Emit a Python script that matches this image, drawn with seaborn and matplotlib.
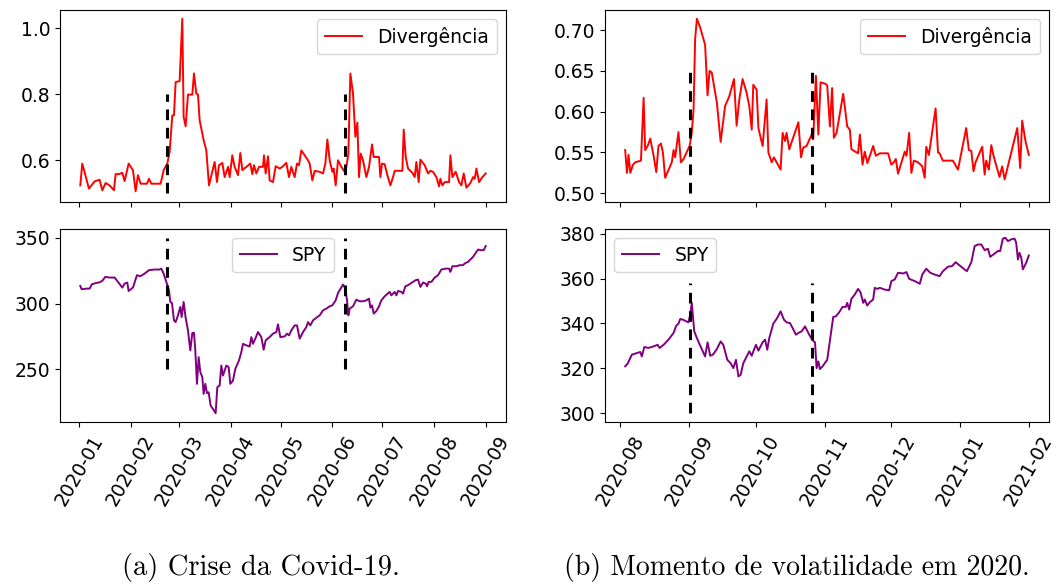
import numpy as np
import pandas as pd
import matplotlib
matplotlib.use("Agg")
import matplotlib.pyplot as plt
import matplotlib.dates as mdates
import matplotlib.ticker as mticker
import seaborn as sns

# ---------------- data ----------------
# (a) Covid crisis: days since 2020-01-01
left_start = "2020-01-01"
left_div_days = [0.8, 2.0, 6.0, 9.4, 12.4, 14.0, 16.0, 18.4, 21.0, 22.0, 24.0, 26.0, 27.4, 29.8, 32.4, 34.0,
                 35.4, 37.0, 40.8, 42.0, 43.4, 49.0, 50.8, 53.0, 54.4, 56.0, 57.0, 58.0, 60.4, 62.0, 62.8, 64.0,
                 65.4, 68.0, 69.0, 70.4, 71.4, 72.4, 74.8, 76.4, 78.0, 80.0, 81.4, 82.8, 84.0, 86.0, 87.4, 89.4,
                 90.4, 92.0, 93.4, 95.4, 96.8, 98.0, 100.4, 102.8, 104.0, 105.0, 106.4, 108.0, 110.4, 111.0,
                 112.0, 113.4, 114.4, 116.4, 118.0, 120.4, 122.0, 124.4, 126.0, 127.4, 129.4, 130.8, 132.0,
                 133.4, 135.4, 137.4, 138.4, 140.0, 141.4, 144.4, 146.4, 147.8, 149.0, 150.4, 152.0, 152.8,
                 154.0, 155.4, 157.4, 159.4, 160.4, 161.6, 162.8, 164.4, 165.8, 167.0, 168.0, 169.0, 170.4,
                 172.4, 174.0, 175.8, 176.8, 180.0, 180.8, 181.8, 183.4, 185.0, 186.8, 188.4, 189.4, 192.4,
                 194.0, 194.8, 196.0, 197.4, 200.0, 201.4, 202.4, 203.8, 204.8, 207.4, 209.4, 210.8, 212.4,
                 214.4, 216.0, 216.8, 218.0, 219.4, 222.0, 222.8, 224.0, 226.0, 228.0, 229.4, 230.8, 232.4,
                 234.8, 236.4, 237.4, 238.4, 240.0, 242.0, 244.0]
left_div_vals = [0.524, 0.590, 0.514, 0.536, 0.541, 0.509, 0.531, 0.524, 0.509, 0.558, 0.558, 0.562, 0.537,
                 0.590, 0.570, 0.506, 0.555, 0.529, 0.529, 0.544, 0.529, 0.529, 0.570, 0.590, 0.625, 0.736,
                 0.736, 0.837, 0.840, 1.029, 0.731, 0.703, 0.799, 0.799, 0.863, 0.802, 0.799, 0.721, 0.661,
                 0.630, 0.524, 0.565, 0.595, 0.534, 0.585, 0.592, 0.549, 0.580, 0.549, 0.615, 0.580, 0.555,
                 0.622, 0.570, 0.580, 0.590, 0.558, 0.585, 0.560, 0.580, 0.580, 0.615, 0.560, 0.612, 0.539,
                 0.534, 0.582, 0.575, 0.580, 0.592, 0.549, 0.580, 0.549, 0.590, 0.585, 0.630, 0.615, 0.600,
                 0.590, 0.539, 0.568, 0.565, 0.560, 0.590, 0.663, 0.600, 0.565, 0.575, 0.524, 0.600, 0.580,
                 0.565, 0.580, 0.620, 0.863, 0.802, 0.671, 0.714, 0.549, 0.620, 0.600, 0.549, 0.580, 0.648,
                 0.610, 0.610, 0.549, 0.590, 0.588, 0.555, 0.524, 0.549, 0.568, 0.568, 0.568, 0.693, 0.610,
                 0.575, 0.562, 0.549, 0.595, 0.534, 0.602, 0.585, 0.560, 0.568, 0.565, 0.549, 0.521, 0.544,
                 0.524, 0.534, 0.534, 0.615, 0.549, 0.565, 0.534, 0.524, 0.560, 0.517, 0.531, 0.549, 0.544,
                 0.575, 0.534, 0.549, 0.560]
left_spy_days = [0.8, 1.6, 4.4, 6.4, 7.8, 10.4, 12.4, 14.0, 15.8, 18.4, 21.4, 23.4, 26.0, 27.4, 29.0, 29.8,
                 32.4, 34.8, 36.8, 39.4, 42.0, 45.4, 48.4, 49.4, 50.8, 52.4, 54.0, 54.8, 55.8, 57.0, 58.0, 59.4,
                 60.8, 61.6, 62.8, 64.0, 65.4, 66.8, 68.0, 69.0, 69.8, 70.8, 71.8, 72.8, 74.0, 74.8, 75.8, 76.8,
                 77.8, 79.0, 80.4, 82.0, 83.0, 84.4, 85.4, 86.4, 88.4, 89.8, 90.8, 92.4, 93.8, 96.0, 97.4, 98.4,
                 100.4, 102.4, 103.4, 104.4, 106.0, 107.4, 109.4, 110.8, 112.0, 114.4, 116.4, 118.4, 119.4,
                 120.8, 123.4, 124.8, 126.0, 127.4, 129.4, 130.8, 132.4, 134.4, 136.4, 137.4, 138.8, 140.4,
                 142.4, 144.4, 146.4, 148.4, 150.4, 152.0, 154.0, 155.4, 156.4, 158.4, 159.8, 160.8, 161.6,
                 162.4, 164.4, 166.4, 168.4, 170.4, 172.4, 174.0, 174.8, 175.8, 176.8, 178.4, 180.0, 181.4,
                 183.4, 186.4, 187.4, 189.4, 190.4, 191.4, 193.4, 194.4, 195.8, 197.4, 199.4, 202.0, 203.4,
                 204.8, 206.4, 208.0, 208.8, 209.8, 211.4, 213.4, 215.4, 217.4, 220.0, 222.0, 222.8, 224.0,
                 226.4, 228.4, 230.4, 231.4, 233.4, 236.4, 239.4, 240.8, 242.8, 244.0]
left_spy_vals = [313.5, 310.9, 311.4, 311.4, 314.7, 315.7, 316.2, 317.3, 320.3, 319.8, 319.8, 316.5, 312.2,
                 315.2, 316.0, 309.6, 312.2, 321.6, 320.8, 322.8, 325.4, 325.9, 325.9, 326.6, 322.8, 316.5,
                 310.2, 301.3, 300.5, 287.3, 286.0, 291.1, 297.5, 289.8, 301.3, 289.3, 279.7, 264.5, 277.7,
                 277.9, 264.5, 239.1, 259.4, 248.0, 244.2, 231.5, 239.1, 232.0, 232.7, 222.6, 220.0, 216.8,
                 236.6, 237.8, 253.0, 245.4, 253.0, 251.8, 239.1, 241.6, 250.5, 256.9, 263.2, 269.5, 268.3,
                 267.5, 274.6, 269.5, 274.1, 278.4, 274.6, 265.0, 272.1, 274.6, 277.2, 278.4, 284.3, 274.6,
                 275.1, 277.2, 275.9, 279.7, 283.5, 283.5, 273.4, 278.4, 282.2, 286.0, 283.5, 287.3, 289.3,
                 291.1, 294.9, 296.2, 298.0, 298.7, 302.5, 308.1, 310.2, 314.5, 311.4, 302.5, 291.1, 296.2,
                 298.0, 303.0, 301.8, 301.8, 302.5, 303.8, 297.0, 298.7, 292.4, 294.4, 298.0, 302.5, 305.6,
                 308.9, 306.3, 308.9, 306.3, 309.6, 308.9, 307.6, 313.2, 314.0, 315.7, 317.8, 318.3, 312.7,
                 316.0, 315.2, 313.2, 316.5, 316.5, 319.8, 321.6, 325.9, 326.6, 326.6, 324.1, 328.4, 328.4,
                 329.2, 329.2, 330.5, 331.7, 335.5, 341.1, 340.6, 340.6, 343.7]
left_event_days = [52.8, 159.8]
left_div_event_range = [0.5, 0.8]
left_spy_event_range = [250, 350]

# (b) volatility moment: days since 2020-08-01
right_start = "2020-08-01"
right_div_days = [2.2, 3.0, 3.7, 4.5, 5.7, 6.7, 9.3, 10.5, 11.2, 12.3, 13.5, 15.0, 16.2, 17.2, 18.3, 19.2,
                  20.2, 23.2, 24.0, 24.7, 26.2, 27.3, 28.5, 31.2, 32.2, 33.0, 33.7, 34.5, 36.0, 38.2, 39.3,
                  40.2, 41.2, 43.5, 45.2, 47.2, 49.1, 51.2, 52.4, 53.6, 55.1, 56.9, 58.1, 59.2, 59.9, 61.4,
                  62.2, 64.1, 65.9, 66.7, 68.2, 69.2, 72.2, 73.1, 74.2, 74.9, 76.1, 80.2, 81.4, 82.4, 83.9,
                  86.2, 86.9, 88.1, 89.2, 90.2, 92.6, 93.2, 94.4, 95.4, 96.2, 97.4, 100.4, 102.2, 103.4, 104.1,
                  107.1, 107.9, 109.1, 110.1, 111.3, 113.9, 115.1, 116.9, 120.6, 122.1, 123.2, 124.1, 125.1,
                  128.1, 128.9, 130.1, 131.1, 132.2, 134.1, 136.0, 137.1, 137.8, 139.0, 142.0, 143.1, 143.8,
                  145.3, 149.8, 152.1, 155.8, 157.0, 158.1, 159.1, 160.0, 163.0, 164.1, 164.8, 166.0, 167.1,
                  168.1, 170.8, 172.0, 173.1, 178.8, 180.1, 181.0, 182.5, 184.0]
right_div_vals = [0.553, 0.525, 0.547, 0.525, 0.535, 0.538, 0.540, 0.617, 0.553, 0.558, 0.567, 0.546, 0.526,
                  0.558, 0.561, 0.550, 0.519, 0.538, 0.553, 0.544, 0.575, 0.538, 0.542, 0.558, 0.574, 0.603,
                  0.689, 0.714, 0.703, 0.682, 0.620, 0.650, 0.648, 0.611, 0.563, 0.607, 0.619, 0.640, 0.583,
                  0.615, 0.640, 0.623, 0.607, 0.578, 0.633, 0.627, 0.580, 0.558, 0.615, 0.550, 0.538, 0.544,
                  0.529, 0.574, 0.564, 0.574, 0.554, 0.587, 0.544, 0.556, 0.558, 0.572, 0.566, 0.644, 0.572,
                  0.636, 0.634, 0.632, 0.582, 0.629, 0.568, 0.574, 0.622, 0.582, 0.578, 0.554, 0.549, 0.572,
                  0.535, 0.551, 0.537, 0.558, 0.546, 0.549, 0.549, 0.535, 0.538, 0.542, 0.524, 0.551, 0.546,
                  0.574, 0.525, 0.540, 0.538, 0.533, 0.519, 0.557, 0.547, 0.604, 0.550, 0.549, 0.540, 0.540,
                  0.529, 0.580, 0.553, 0.552, 0.527, 0.538, 0.557, 0.523, 0.540, 0.529, 0.559, 0.546, 0.520,
                  0.533, 0.517, 0.580, 0.531, 0.589, 0.564, 0.547]
right_spy_days = [2.2, 3.3, 5.2, 9.0, 9.7, 10.8, 12.7, 15.0, 16.8, 17.7, 19.5, 21.7, 24.0, 25.2, 26.2, 27.0,
                  28.2, 30.7, 31.5, 32.2, 33.3, 34.5, 36.0, 38.2, 39.3, 40.5, 41.7, 43.5, 45.2, 46.4, 48.2,
                  49.7, 50.9, 52.1, 53.2, 54.2, 55.4, 56.9, 58.1, 59.2, 60.2, 61.1, 62.2, 64.1, 65.2, 66.2,
                  67.1, 68.9, 70.7, 72.2, 73.7, 74.9, 76.4, 77.6, 79.1, 80.2, 81.7, 83.2, 85.1, 86.6, 87.7,
                  88.4, 89.2, 89.9, 91.1, 93.2, 94.7, 95.9, 97.1, 98.6, 100.1, 101.6, 102.2, 103.1, 104.1,
                  105.6, 107.1, 108.2, 109.4, 110.1, 111.2, 112.4, 113.9, 114.6, 115.7, 116.9, 119.1, 121.1,
                  122.1, 123.6, 125.1, 127.4, 128.9, 130.1, 132.6, 134.9, 136.0, 137.8, 139.6, 141.6, 143.8,
                  145.3, 147.6, 149.5, 151.0, 152.8, 155.1, 156.1, 158.1, 159.6, 161.1, 162.6, 164.1, 165.6,
                  166.6, 170.1, 171.1, 172.3, 173.4, 174.6, 176.1, 177.6, 178.3, 179.1, 179.8, 180.6, 181.3,
                  182.8, 184.0]
right_spy_vals = [320.9, 322.1, 326.1, 327.3, 325.3, 329.5, 329.1, 329.8, 330.5, 329.1, 330.5, 332.8, 335.8,
                  339.0, 339.9, 342.0, 341.7, 340.5, 344.0, 349.2, 336.5, 333.5, 330.1, 325.3, 331.6, 325.6,
                  326.1, 328.6, 332.0, 330.5, 323.8, 322.3, 320.1, 323.8, 316.4, 317.1, 322.3, 325.3, 327.6,
                  325.6, 328.3, 330.5, 327.9, 331.6, 332.8, 328.3, 333.5, 339.9, 342.5, 345.4, 341.7, 340.5,
                  340.2, 338.0, 335.0, 335.8, 336.5, 338.7, 335.0, 332.5, 331.6, 320.1, 323.1, 319.7, 320.9,
                  323.8, 334.3, 342.9, 343.2, 345.0, 347.4, 347.4, 349.2, 346.2, 351.0, 352.9, 355.4, 353.9,
                  349.2, 350.7, 348.0, 349.5, 350.7, 355.9, 355.4, 355.9, 355.1, 354.8, 358.9, 359.6, 362.6,
                  362.3, 362.9, 359.9, 358.9, 357.7, 361.8, 364.4, 362.6, 361.8, 361.1, 363.3, 365.3, 365.6,
                  367.3, 365.9, 364.1, 363.3, 367.3, 374.5, 375.2, 375.2, 372.7, 373.3, 369.7, 372.3, 372.3,
                  377.8, 378.2, 376.7, 377.5, 377.8, 376.0, 368.5, 371.5, 369.3, 364.1, 367.0, 370.3]
right_event_days = [31.2, 86.2]
right_div_event_range = [0.5, 0.65]
right_spy_event_range = [300, 358]

div_label = "Divergência"
spy_label = "SPY"
captions = ["(a) Crise da Covid-19.", "(b) Momento de volatilidade em 2020."]


def to_dates(start, days):
    return pd.Timestamp(start) + pd.to_timedelta(np.asarray(days, dtype=float), unit="D")


plt.rcParams["font.family"] = ["DejaVu Sans"]
plt.rcParams["font.size"] = 13

W, H = 1057, 585
fig = plt.figure(figsize=(W / 100, H / 100), dpi=100)


def box(x0, y0, x1, y1):
    return [x0 / W, 1 - y1 / H, (x1 - x0) / W, (y1 - y0) / H]


ax_lt = fig.add_axes(box(60, 10, 506, 202))
ax_lb = fig.add_axes(box(60, 229, 506, 422), sharex=ax_lt)
ax_rt = fig.add_axes(box(605, 10, 1049, 202))
ax_rb = fig.add_axes(box(605, 229, 1049, 422), sharex=ax_rt)

panels = [
    (ax_lt, left_start, left_div_days, left_div_vals, "red", div_label, left_event_days, left_div_event_range, "upper right"),
    (ax_lb, left_start, left_spy_days, left_spy_vals, "purple", spy_label, left_event_days, left_spy_event_range, "upper center"),
    (ax_rt, right_start, right_div_days, right_div_vals, "red", div_label, right_event_days, right_div_event_range, "upper right"),
    (ax_rb, right_start, right_spy_days, right_spy_vals, "purple", spy_label, right_event_days, right_spy_event_range, "upper left"),
]

for ax, start, days, vals, color, label, ev, evr, loc in panels:
    df = pd.DataFrame({"date": to_dates(start, days), "value": vals})
    sns.lineplot(data=df, x="date", y="value", ax=ax, color=color, label=label,
                 estimator=None, sort=False, linewidth=1.4)
    ax.vlines(to_dates(start, ev), evr[0], evr[1], colors="black", linestyles=(0, (3.5, 2.5)), linewidth=2.2)
    ax.set_xlabel("")
    ax.set_ylabel("")
    ax.legend(loc=loc, fontsize=13.5)
    ax.tick_params(labelsize=13.5)

for ax in (ax_lt, ax_rt):
    ax.tick_params(labelbottom=False)

for ax in (ax_lb, ax_rb):
    ax.xaxis.set_major_locator(mdates.MonthLocator())
    ax.xaxis.set_major_formatter(mdates.DateFormatter("%Y-%m"))
    for lbl in ax.get_xticklabels():
        lbl.set_rotation(60)
        lbl.set_ha("center")

ax_lt.yaxis.set_major_locator(mticker.MultipleLocator(0.2))
ax_lb.yaxis.set_major_locator(mticker.MultipleLocator(50))
ax_rt.yaxis.set_major_formatter(mticker.FormatStrFormatter("%.2f"))

cap_font = ["cmr10", "DejaVu Serif"]
fig.text(261 / W, 1 - 567 / H, captions[0], ha="center", va="center", fontsize=20.5, family=cap_font)
fig.text(797 / W, 1 - 567 / H, captions[1], ha="center", va="center", fontsize=20, family=cap_font)

fig.savefig("out.png", dpi=100)
